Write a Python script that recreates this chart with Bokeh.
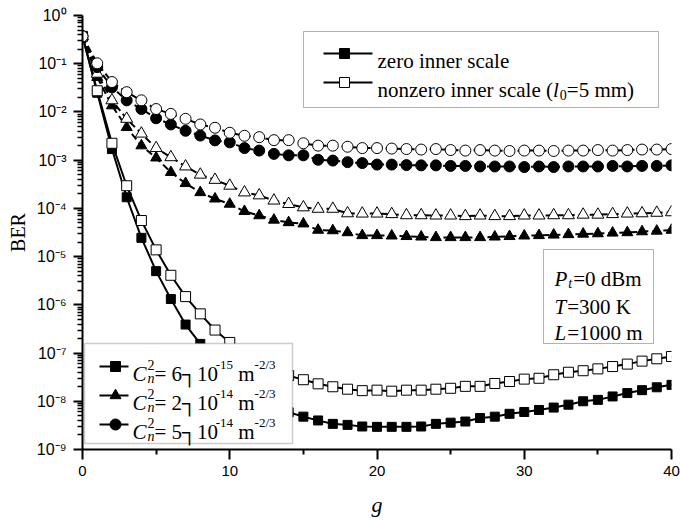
import math
from bokeh.plotting import figure
from bokeh.models import (FixedTicker, CustomJSTickFormatter, Label,
                          ColumnDataSource, BoxAnnotation, Range1d)
from bokeh.embed import file_html
from bokeh.resources import INLINE

# ---------------- data ----------------
g_values = list(range(41))

# C_n^2 = 6e-15 (squares)
ber_sq_zero = [3.7e-1, 2.5e-2, 1.7e-3, 1.7e-4, 2.45e-5, 5.0e-6, 1.32e-6, 3.9e-7, 1.55e-7, 7.1e-8, 3.55e-8,
               2.0e-8, 1.26e-8, 8.9e-9, 5.9e-9, 4.8e-9, 4.0e-9, 3.4e-9, 3.24e-9, 3.0e-9, 2.95e-9,
               2.95e-9, 2.95e-9, 3.0e-9, 3.4e-9, 3.6e-9, 3.8e-9, 4.5e-9, 4.8e-9, 5.5e-9, 6.0e-9,
               6.6e-9, 7.4e-9, 8.5e-9, 1.0e-8, 1.07e-8, 1.26e-8, 1.48e-8, 1.7e-8, 1.95e-8, 2.19e-8]
ber_sq_nonzero = [3.7e-1, 2.75e-2, 2.24e-3, 2.95e-4, 5.6e-5, 1.38e-5, 4.1e-6, 1.48e-6, 6.5e-7, 3.0e-7, 1.66e-7,
                  9.5e-8, 6.0e-8, 4.3e-8, 3.4e-8, 2.8e-8, 2.3e-8, 2.0e-8, 1.78e-8, 1.66e-8, 1.7e-8,
                  1.62e-8, 1.7e-8, 1.7e-8, 1.78e-8, 1.86e-8, 2.04e-8, 2.04e-8, 2.34e-8, 2.57e-8, 2.88e-8,
                  3.0e-8, 3.55e-8, 4.0e-8, 4.3e-8, 4.7e-8, 5.25e-8, 5.9e-8, 6.8e-8, 7.6e-8, 8.5e-8]
# C_n^2 = 2e-14 (triangles)
ber_tri_zero = [3.7e-1, 5.25e-2, 1.35e-2, 4.8e-3, 2.0e-3, 1.12e-3, 5.6e-4, 3.3e-4, 2.14e-4, 1.58e-4, 1.23e-4,
                8.7e-5, 7.1e-5, 5.75e-5, 5.1e-5, 4.8e-5, 3.55e-5, 3.47e-5, 3.16e-5, 2.75e-5, 2.75e-5,
                2.7e-5, 2.63e-5, 2.57e-5, 2.5e-5, 2.5e-5, 2.5e-5, 2.5e-5, 2.57e-5, 2.63e-5, 2.7e-5,
                2.75e-5, 2.82e-5, 2.88e-5, 2.95e-5, 3.0e-5, 3.1e-5, 3.16e-5, 3.3e-5, 3.4e-5, 3.55e-5]
ber_tri_nonzero = [3.7e-1, 6.2e-2, 1.74e-2, 7.2e-3, 3.55e-3, 1.78e-3, 1.15e-3, 7.4e-4, 5.0e-4, 3.9e-4, 2.95e-4,
                   2.14e-4, 1.86e-4, 1.45e-4, 1.23e-4, 1.05e-4, 9.8e-5, 9.8e-5, 7.9e-5, 7.8e-5, 7.8e-5,
                   7.6e-5, 7.2e-5, 7.2e-5, 7.1e-5, 7.1e-5, 6.9e-5, 7.1e-5, 6.9e-5, 6.9e-5, 7.1e-5,
                   7.1e-5, 7.2e-5, 7.2e-5, 7.4e-5, 7.4e-5, 7.6e-5, 7.8e-5, 7.9e-5, 8.1e-5, 8.3e-5]
# C_n^2 = 5e-14 (circles)
ber_circ_zero = [3.7e-1, 8.5e-2, 3.24e-2, 1.74e-2, 1.15e-2, 7.4e-3, 5.5e-3, 4.07e-3, 3.24e-3, 2.57e-3, 2.34e-3,
                 1.78e-3, 1.58e-3, 1.35e-3, 1.26e-3, 1.26e-3, 1.02e-3, 9.8e-4, 9.1e-4, 8.7e-4, 8.1e-4,
                 8.1e-4, 7.9e-4, 7.8e-4, 7.8e-4, 7.6e-4, 7.6e-4, 7.4e-4, 7.4e-4, 7.4e-4, 7.2e-4,
                 7.4e-4, 7.2e-4, 7.4e-4, 7.4e-4, 7.4e-4, 7.6e-4, 7.4e-4, 7.6e-4, 7.6e-4, 7.8e-4]
ber_circ_nonzero = [3.7e-1, 1.02e-1, 4.17e-2, 2.57e-2, 1.74e-2, 1.15e-2, 9.1e-3, 7.2e-3, 5.5e-3, 4.7e-3, 3.7e-3,
                    3.2e-3, 3.0e-3, 2.6e-3, 2.6e-3, 2.24e-3, 2.0e-3, 2.0e-3, 1.9e-3, 1.78e-3, 1.78e-3,
                    1.74e-3, 1.7e-3, 1.66e-3, 1.7e-3, 1.62e-3, 1.58e-3, 1.62e-3, 1.58e-3, 1.55e-3, 1.58e-3,
                    1.58e-3, 1.55e-3, 1.58e-3, 1.58e-3, 1.62e-3, 1.58e-3, 1.62e-3, 1.66e-3, 1.66e-3, 1.7e-3]

x_ticks = [0, 10, 20, 30, 40]
x_minor_ticks = [5, 15, 25, 35]
y_ticks = [1e-9, 1e-8, 1e-7, 1e-6, 1e-5, 1e-4, 1e-3, 1e-2, 1e-1, 1e0]

# ---------------- layout (pixels) ----------------
W, H = 680, 523
FL, FR, FT, FB = 82, 671, 15, 449
XMIN, XMAX = 0, 40
LYMIN, LYMAX = -9, 0


def gx(px):
    return XMIN + (px - FL) / (FR - FL) * (XMAX - XMIN)


def by(py):
    return 10 ** (LYMAX - (py - FT) / (FB - FT) * (LYMAX - LYMIN))


SERIF = "Liberation Serif"
SANS = "Liberation Sans"

p = figure(width=W, height=H, x_range=Range1d(XMIN, XMAX), y_range=Range1d(10 ** LYMIN, 10 ** LYMAX),
           y_axis_type="log", output_backend="svg", toolbar_location=None,
           min_border_left=FL, min_border_right=W - FR, min_border_top=FT, min_border_bottom=H - FB)
p.outline_line_color = None
p.grid.visible = False
p.background_fill_color = "white"
p.border_fill_color = "white"

# x axis
p.xaxis.ticker = FixedTicker(ticks=x_ticks, minor_ticks=x_minor_ticks)
p.xaxis.axis_line_width = 2
p.xaxis.major_tick_line_width = 2
p.xaxis.minor_tick_line_width = 2
p.xaxis.major_tick_in = 0
p.xaxis.major_tick_out = 10
p.xaxis.minor_tick_in = 0
p.xaxis.minor_tick_out = 5
p.xaxis.major_label_text_font = SANS
p.xaxis.major_label_text_font_size = "15px"
p.xaxis.major_label_text_color = "black"
p.xaxis.major_label_standoff = 6
p.xaxis.axis_label = "g"
p.xaxis.axis_label_text_font = SERIF
p.xaxis.axis_label_text_font_style = "italic"
p.xaxis.axis_label_text_font_size = "22px"
p.xaxis.axis_label_text_color = "black"
p.xaxis.axis_label_standoff = 13

# y axis
y_minor = [k * 10.0 ** e for e in range(-9, 0) for k in range(2, 10)]
p.yaxis.ticker = FixedTicker(ticks=y_ticks, minor_ticks=y_minor)
p.yaxis.formatter = CustomJSTickFormatter(code="""
const sup = {"0": "\\u2070", "1": "\\u00B9", "2": "\\u00B2", "3": "\\u00B3", "4": "\\u2074",
             "5": "\\u2075", "6": "\\u2076", "7": "\\u2077", "8": "\\u2078", "9": "\\u2079",
             "-": "\\u207B"};
const e = Math.round(Math.log10(tick));
return "10" + String(e).split("").map((c) => sup[c]).join("");
""")
p.yaxis.axis_line_width = 2
p.yaxis.major_tick_line_width = 2
p.yaxis.minor_tick_line_width = 1.5
p.yaxis.major_tick_in = 0
p.yaxis.major_tick_out = 9
p.yaxis.minor_tick_in = 0
p.yaxis.minor_tick_out = 5
p.yaxis.major_label_text_font = SANS
p.yaxis.major_label_text_font_size = "16px"
p.yaxis.major_label_text_color = "black"
p.yaxis.major_label_standoff = 7
p.yaxis.axis_label = "BER"
p.yaxis.axis_label_text_font = SERIF
p.yaxis.axis_label_text_font_style = "normal"
p.yaxis.axis_label_text_font_size = "20px"
p.yaxis.axis_label_text_color = "black"
p.yaxis.axis_label_standoff = 5

# ---------------- series ----------------
LW = 2
series = [
    (ber_sq_zero, "square", 9, "black", "solid"),
    (ber_sq_nonzero, "square", 10, "white", "solid"),
    (ber_tri_zero, "triangle", 11, "black", "7 4"),
    (ber_tri_nonzero, "triangle", 12, "white", "7 4"),
    (ber_circ_zero, "circle", 11, "black", "7 4"),
    (ber_circ_nonzero, "circle", 11, "white", "7 4"),
]
for ys, marker, size, fill, dash in series:
    src = ColumnDataSource(dict(g=g_values, ber=ys))
    p.line("g", "ber", source=src, line_color="black", line_width=LW, line_dash=dash)
for ys, marker, size, fill, dash in series:
    src = ColumnDataSource(dict(g=g_values, ber=ys))
    p.scatter("g", "ber", source=src, marker=marker, size=size, fill_color=fill,
              line_color="black", line_width=1)

# ---------------- rich text helper ----------------
TIMES = {' ': 250, '=': 564, '-': 333, '/': 278, '(': 333, ')': 333, '┐': 600,
         'a': 444, 'b': 500, 'c': 444, 'd': 500, 'e': 444, 'i': 278, 'l': 278, 'm': 778,
         'n': 500, 'o': 500, 'r': 333, 's': 389, 't': 278, 'z': 444,
         'B': 667, 'C': 667, 'K': 722, 'L': 611, 'P': 556, 'T': 611}
TIMES_I = {'C': 667, 'n': 500, 'l': 278, 't': 278, 'P': 611, 'T': 556, 'L': 556}


def text_width(s, size, italic):
    tab = TIMES_I if italic else TIMES
    return sum(tab.get(ch, TIMES.get(ch, 500)) for ch in s) * size / 1000.0


def rich(x_px, base_px, runs):
    x = x_px
    for txt, size, italic, dy, adv in runs:
        lead = len(txt) - len(txt.lstrip(" "))
        x += text_width(" " * lead, size, italic)
        txt = txt.lstrip(" ")
        p.add_layout(Label(x=gx(x), y=by(base_px - dy), text=txt, text_align="left",
                           text_baseline="alphabetic", text_font=SERIF,
                           text_font_size=f"{size}px",
                           text_font_style="italic" if italic else "normal",
                           text_color="black", level="overlay"))
        if adv:
            x += text_width(txt, size, italic) + (1 if italic else 0)


FS, SS = 21, 14

# ---------------- top-right legend ----------------
p.add_layout(BoxAnnotation(left=gx(303), right=gx(658), top=by(31), bottom=by(107),
                           fill_color="white", fill_alpha=1, line_color="black", line_width=1))
for ypx, fill in [(53, "black"), (82, "white")]:
    p.line([gx(323), gx(372)], [by(ypx), by(ypx)], line_color="black", line_width=2, level="overlay")
    p.scatter([gx(344)], [by(ypx)], marker="square", size=10, fill_color=fill,
              line_color="black", level="overlay")
rich(377, 60, [("zero inner scale", FS, False, 0, True)])
rich(377, 89, [("nonzero inner scale (", FS, False, 0, True), ("l", FS, True, 0, True),
               ("0", SS, False, -5, True), ("=5 mm)", FS, False, 0, True)])

# ---------------- parameter box ----------------
p.add_layout(BoxAnnotation(left=gx(543), right=gx(653), top=by(249), bottom=by(343),
                           fill_color="white", fill_alpha=1, line_color="black", line_width=1))
rich(554, 278, [("P", FS, True, 0, True), ("t", SS, True, -5, True), ("=0 dBm", FS, False, 0, True)])
rich(554, 306, [("T", FS, True, 0, True), ("=300 K", FS, False, 0, True)])
rich(554, 332, [("L", FS, True, 0, True), ("=1000 m", FS, False, 0, True)])

# ---------------- bottom-left legend ----------------
p.add_layout(BoxAnnotation(left=gx(84), right=gx(292), top=by(343), bottom=by(443),
                           fill_color="white", fill_alpha=1, line_color="#555555", line_width=1.5))
for ypx, marker, size, const, exp in [(366, "square", 10, "6", "-15"),
                                      (395, "triangle", 11, "2", "-14"),
                                      (424, "circle", 11, "5", "-14")]:
    p.line([gx(99), gx(128)], [by(ypx), by(ypx)], line_color="black", line_width=2, level="overlay")
    p.scatter([gx(115)], [by(ypx)], marker=marker, size=size, fill_color="black",
              line_color="black", level="overlay")
    rich(132, ypx + 7, [("C", FS, True, 0, True), ("n", SS, True, -5, False), ("2", SS, False, 9, True),
                        ("= " + const + "┐10", FS, False, 0, True), (exp, 13, False, 9, True),
                        (" m", FS, False, 0, True), ("-2/3", 13, False, 9, True)])

open("out.html", "w", encoding="utf-8").write(file_html(p, INLINE))
